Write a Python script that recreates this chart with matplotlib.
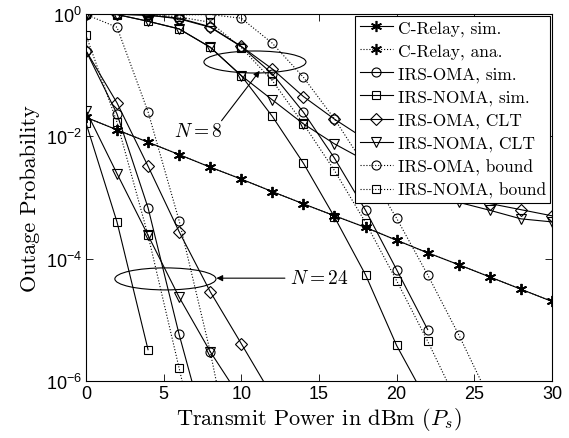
import numpy as np
import matplotlib
matplotlib.use("Agg")
import matplotlib.pyplot as plt
from matplotlib.patches import Ellipse

plt.rcParams['mathtext.fontset'] = 'cm'
plt.rcParams['font.family'] = ['cmr10', 'DejaVu Serif']
plt.rcParams['axes.formatter.use_mathtext'] = True

# ---------------- data (log10 of outage probability) ----------------
snr = [0, 2, 4, 6, 8, 10, 12, 14, 16, 18, 20, 22, 24, 26, 28, 30]

crelay_sim = [-1.69, -1.895, -2.097, -2.30, -2.505, -2.70, -2.905, -3.105,
              -3.30, -3.49, -3.70, -3.905, -4.10, -4.30, -4.50, -4.70]
crelay_ana = [-1.69, -1.895, -2.097, -2.30, -2.505, -2.70, -2.905, -3.105,
              -3.30, -3.49, -3.70, -3.905, -4.10, -4.30, -4.50, -4.70]

# N = 8
oma_sim_8 = [-0.003, -0.005, -0.02, -0.08, -0.218, -0.534, -0.98, -1.606,
             -2.358, -3.21, -4.18, -5.16]
noma_sim_8 = [-0.003, -0.01, -0.12, -0.245, -0.544, -1.008, -1.675, -2.44,
              -3.32, -4.265, -5.42, -6.35]
oma_clt_8 = [-0.003, -0.005, -0.02, -0.07, -0.21, -0.53, -0.90, -1.35,
             -1.72, -2.05, -2.35, -2.62, -2.90, -3.10, -3.20, -3.30]
noma_clt_8 = [-0.003, -0.01, -0.12, -0.245, -0.544, -1.008, -1.405, -1.797,
              -2.124, -2.40, -2.65, -2.88, -3.08, -3.21, -3.35, -3.40]
oma_bnd_8 = [-0.001, -0.002, -0.004, -0.015, -0.01, -0.07, -0.479, -1.035,
             -1.716, -2.50, -3.34, -4.265, -5.245, -6.3]
noma_bnd_8 = [-0.001, -0.003, -0.01, -0.05, -0.136, -0.55, -1.09, -1.797,
              -2.56, -3.41, -4.36, -5.35, -6.4]

# N = 24
oma_sim_24 = [-0.60, -1.634, -3.17, -5.24, -7.1]
noma_sim_24 = [-1.78, -3.40, -5.49]
oma_clt_24 = [-0.60, -1.454, -2.49, -3.56, -4.54, -5.39, -6.25]
noma_clt_24 = [-1.58, -2.61, -3.62, -4.63, -5.52, -6.3]
oma_bnd_24 = [-0.01, -0.218, -1.60, -3.38, -5.52, -8.0]
noma_bnd_24 = [-0.343, -1.77, -3.62, -5.79, -8.0]

labels = ['C-Relay, sim.', 'C-Relay, ana.', 'IRS-OMA, sim.', 'IRS-NOMA, sim.',
          'IRS-OMA, CLT', 'IRS-NOMA, CLT', 'IRS-OMA, bound', 'IRS-NOMA, bound']

# ---------------- plotting ----------------
fig = plt.figure(figsize=(5.69, 4.39), dpi=100)
ax = fig.add_axes([0.151, 0.130, 0.819, 0.836])

ast = (6, 2, 0)
lw = 0.8
ms = 6.5

def plot(vals, ls, marker, label=None, msz=ms, mew=0.8):
    x = snr[:len(vals)]
    y = np.power(10.0, np.array(vals))
    return ax.plot(x, y, linestyle=ls, color='k', lw=lw, marker=marker,
                   markersize=msz, markerfacecolor='none', markeredgecolor='k',
                   markeredgewidth=mew, label=label)[0]

h = []
h.append(plot(crelay_sim, '-', ast, labels[0], msz=8, mew=1.2))
h.append(plot(crelay_ana, ':', ast, labels[1], msz=8, mew=1.2))
h.append(plot(oma_sim_8, '-', 'o', labels[2]))
h.append(plot(noma_sim_8, '-', 's', labels[3], msz=6))
h.append(plot(oma_clt_8, '-', 'D', labels[4], msz=6))
h.append(plot(noma_clt_8, '-', 'v', labels[5], msz=7))
h.append(plot(oma_bnd_8, ':', 'o', labels[6]))
h.append(plot(noma_bnd_8, ':', 's', labels[7], msz=6))

plot(oma_sim_24, '-', 'o')
plot(noma_sim_24, '-', 's', msz=6)
plot(oma_clt_24, '-', 'D', msz=6)
plot(noma_clt_24, '-', 'v', msz=7)
plot(oma_bnd_24, ':', 'o')
plot(noma_bnd_24, ':', 's', msz=6)

ax.set_yscale('log')
ax.set_xlim(0, 30)
ax.set_ylim(1e-6, 1)

xt = [0, 5, 10, 15, 20, 25, 30]
ax.set_xticks(xt)
ax.set_xticklabels([str(v) for v in xt], fontfamily='Liberation Sans', fontsize=13)
yt = [1e-6, 1e-4, 1e-2, 1]
ax.set_yticks(yt)
ax.set_yticklabels([r'$\mathregular{10^{-6}}$', r'$\mathregular{10^{-4}}$',
                    r'$\mathregular{10^{-2}}$', r'$\mathregular{10^{0}}$'],
                   fontfamily='Liberation Sans', fontsize=13)
ax.yaxis.set_minor_locator(matplotlib.ticker.NullLocator())
ax.tick_params(which='both', direction='in', top=True, right=True, length=5,
               width=0.6, pad=3)
for s in ax.spines.values():
    s.set_linewidth(0.8)

ax.set_xlabel(r'Transmit Power in dBm ($P_s$)', fontsize=16, labelpad=2)
ax.set_ylabel('Outage Probability', fontsize=16, labelpad=4)

leg = ax.legend(handles=h, loc='upper right', fontsize=12.5, frameon=True,
                fancybox=False, edgecolor='k', framealpha=1,
                borderaxespad=0.1, handlelength=1.9, handletextpad=0.3,
                labelspacing=0.42, borderpad=0.25)
leg.get_frame().set_linewidth(0.8)

# annotations
ax.add_patch(Ellipse((0.3627, 0.869), 0.219, 0.060, transform=ax.transAxes,
                     fill=False, ec='k', lw=0.8))
ax.annotate('', xy=(0.373, 0.845), xytext=(0.291, 0.709),
            xycoords='axes fraction', textcoords='axes fraction',
            arrowprops=dict(arrowstyle='-|>', color='k', lw=0.8,
                            mutation_scale=9, shrinkA=0, shrinkB=0))
ax.text(0.240, 0.681, r'$N=8$', transform=ax.transAxes, ha='center',
        va='center', fontsize=14)

ax.add_patch(Ellipse((0.1706, 0.278), 0.217, 0.060, transform=ax.transAxes,
                     fill=False, ec='k', lw=0.8))
ax.annotate('', xy=(0.280, 0.280), xytext=(0.427, 0.280),
            xycoords='axes fraction', textcoords='axes fraction',
            arrowprops=dict(arrowstyle='-|>', color='k', lw=0.8,
                            mutation_scale=9, shrinkA=0, shrinkB=0))
ax.text(0.438, 0.281, r'$N=24$', transform=ax.transAxes, ha='left',
        va='center', fontsize=14)

fig.savefig('out.png', dpi=100)
